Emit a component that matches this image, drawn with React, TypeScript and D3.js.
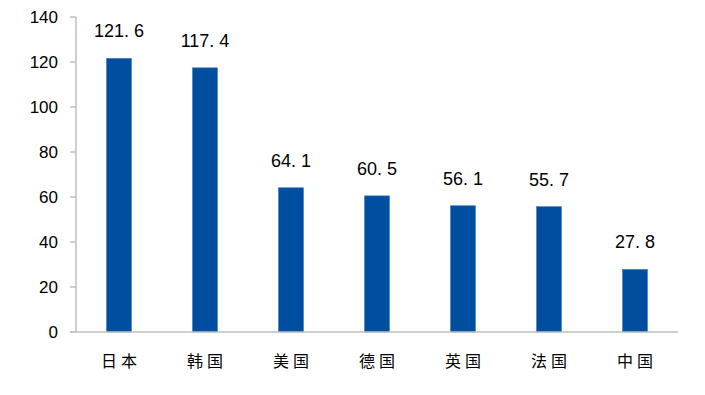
import { useEffect, useRef } from "react"
import * as d3 from "d3"

const countries = ["日本", "韩国", "美国", "德国", "英国", "法国", "中国"]
const values = [121.6, 117.4, 64.1, 60.5, 56.1, 55.7, 27.8]
const yTicks = [0, 20, 40, 60, 80, 100, 120, 140]

export default function App() {
  const ref = useRef<SVGSVGElement>(null)

  useEffect(() => {
    const svg = d3.select(ref.current)
    svg.selectAll("*").remove()

    const left = 76, right = 678, top = 17, bottom = 332

    const x = d3.scaleBand().domain(countries).range([left, right]).paddingInner(0.71).paddingOuter(0.355)
    const y = d3.scaleLinear().domain([0, 140]).range([bottom, top])

    // bars
    svg.append("g")
      .selectAll("rect")
      .data(values)
      .join("rect")
      .attr("x", (d, i) => x(countries[i])!)
      .attr("y", d => y(d))
      .attr("width", x.bandwidth())
      .attr("height", d => bottom - y(d))
      .attr("fill", "#004EA0")
      .attr("stroke", "#3B78BC")
      .attr("stroke-width", 0.6)

    // value labels, with the wide gap after the point
    const labels = svg.append("g")
      .selectAll("text")
      .data(values)
      .join("text")
      .attr("x", (d, i) => x(countries[i])! + x.bandwidth() / 2)
      .attr("y", d => y(d) - 21)
      .attr("text-anchor", "middle")
      .style("font-family", "'Liberation Sans', Arial, sans-serif")
      .style("font-size", "18px")
      .style("fill", "#000")
    labels.append("tspan").text(d => d.toFixed(1).split(".")[0] + ".")
    labels.append("tspan").attr("dx", 5).text(d => d.toFixed(1).split(".")[1])

    // y axis
    const axisColor = "#BFBFBF"
    svg.append("line")
      .attr("x1", left).attr("x2", left)
      .attr("y1", top).attr("y2", bottom)
      .attr("stroke", axisColor).attr("stroke-width", 1.5)
    svg.append("g")
      .selectAll("line")
      .data(yTicks)
      .join("line")
      .attr("x1", left - 6).attr("x2", left)
      .attr("y1", d => y(d)).attr("y2", d => y(d))
      .attr("stroke", axisColor).attr("stroke-width", 1.5)
    svg.append("g")
      .selectAll("text")
      .data(yTicks)
      .join("text")
      .attr("x", 58)
      .attr("y", d => y(d) + 6)
      .attr("text-anchor", "end")
      .style("font-family", "'Liberation Sans', Arial, sans-serif")
      .style("font-size", "17px")
      .style("fill", "#000")
      .text(d => d)

    // x axis
    svg.append("line")
      .attr("x1", left - 6).attr("x2", right)
      .attr("y1", bottom).attr("y2", bottom)
      .attr("stroke", axisColor).attr("stroke-width", 1.5)
    svg.append("g")
      .selectAll("text")
      .data(countries)
      .join("text")
      .attr("x", d => x(d)! + x.bandwidth() / 2 + 2)
      .attr("y", 367)
      .attr("text-anchor", "middle")
      .style("font-family", "'Noto Sans CJK SC', sans-serif")
      .style("font-size", "16px")
      .style("letter-spacing", "4px")
      .style("fill", "#000")
      .text(d => d)
  }, [])

  return (
    <svg ref={ref} width={705} height={395}
      style={{ position: "absolute", left: 0, top: 0, background: "#fff" }} />
  )
}
